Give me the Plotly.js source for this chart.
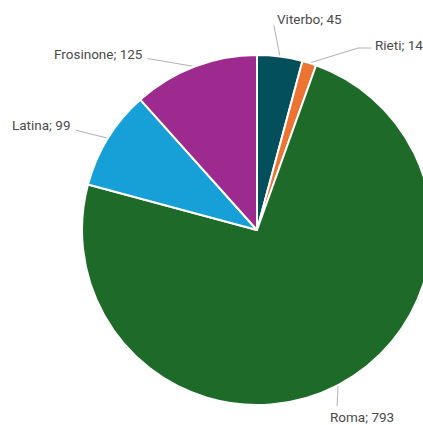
<!DOCTYPE html>
<html>
<head>
<meta charset="utf-8">
<script src="https://cdn.plot.ly/plotly-3.0.1.min.js"></script>
<style>
html,body{margin:0;padding:0;overflow:hidden;background:#fff;}
#chart{width:460px;height:425px;}
</style>
</head>
<body>
<div id="chart"></div>
<script>
// Data
const provinces = ["Viterbo", "Rieti", "Roma", "Latina", "Frosinone"];
const counts = [45, 14, 793, 99, 125];
const sliceColors = ["#034f5b", "#ec7332", "#1e6b29", "#16a0d7", "#9d2a8f"];

// Layout geometry (pixels)
const W = 460, H = 425;
const cx = 257, cy = 230, R = 175;
// label placement per slice: connector end offset from slice edge, kink length, text anchor
const labelLayout = [
  {dx: -6, dy: -31, kink: 0, anchor: "left", tx: 1, ty: -7},
  {dx: 62, dy: -15, kink: 13, anchor: "left", tx: 2, ty: -3},
  {dx: -1, dy: 21, kink: 0, anchor: "left", tx: -9, ty: 11},
  {dx: -32, dy: -8, kink: 0, anchor: "right", tx: -3, ty: -5},
  {dx: -47, dy: -8, kink: 0, anchor: "right", tx: -3, ty: -5}
];

const total = counts.reduce((a, b) => a + b, 0);
let cum = 0;
const lx = [], ly = [];
const annotations = [];
counts.forEach((v, i) => {
  const th = (cum + v / 2) / total * 2 * Math.PI;
  cum += v;
  const ex = cx + R * Math.sin(th);
  const ey = cy - R * Math.cos(th);
  const L = labelLayout[i];
  const endX = ex + L.dx, endY = ey + L.dy;
  lx.push(ex);
  ly.push(ey);
  if (L.kink) {
    const sgn = L.dx >= 0 ? -1 : 1;
    lx.push(endX + sgn * L.kink);
    ly.push(endY);
  }
  lx.push(endX);
  ly.push(endY);
  lx.push(null);
  ly.push(null);
  annotations.push({
    xref: "x", yref: "y",
    x: endX + L.tx, y: endY + L.ty,
    xanchor: L.anchor, yanchor: "middle",
    text: provinces[i] + "; " + v,
    showarrow: false,
    font: {family: "Roboto, Inter, sans-serif", size: 13.5, color: "#4a4a4a"}
  });
});

const pie = {
  type: "pie",
  labels: provinces,
  values: counts,
  sort: false,
  direction: "clockwise",
  rotation: 0,
  marker: {colors: sliceColors, line: {color: "#ffffff", width: 2}},
  textinfo: "none",
  hoverinfo: "label+value",
  showlegend: false,
  domain: {
    x: [(cx - R) / W, (cx + R) / W],
    y: [(H - cy - R) / H, (H - cy + R) / H]
  }
};

const connectors = {
  type: "scatter",
  mode: "lines",
  x: lx, y: ly,
  line: {color: "#b0b0b0", width: 1},
  hoverinfo: "skip",
  showlegend: false
};

const layout = {
  width: W, height: H,
  margin: {l: 0, r: 0, t: 0, b: 0},
  paper_bgcolor: "#fff",
  plot_bgcolor: "rgba(0,0,0,0)",
  showlegend: false,
  xaxis: {range: [0, W], visible: false, fixedrange: true, domain: [0, 1]},
  yaxis: {range: [H, 0], visible: false, fixedrange: true, domain: [0, 1]},
  annotations: annotations
};

Plotly.newPlot("chart", [connectors, pie], layout, {displayModeBar: false, staticPlot: true});
</script>
</body>
</html>
